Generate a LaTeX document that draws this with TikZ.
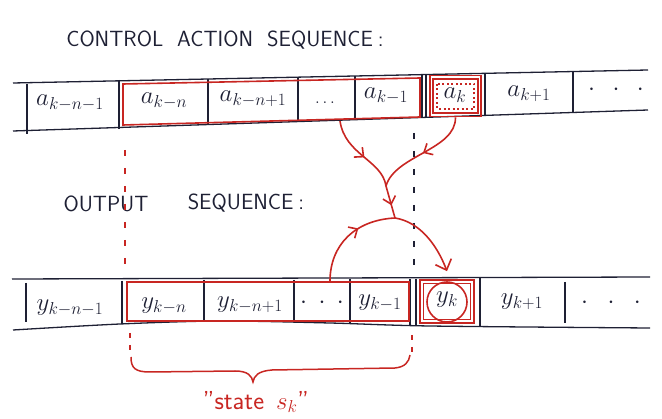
\documentclass[tikz,border=0pt]{standalone}
\usetikzlibrary{arrows.meta,decorations.markings}
\definecolor{ink}{RGB}{30,32,52}
\definecolor{mred}{RGB}{200,38,34}
\begin{document}
\begin{tikzpicture}[x=1pt,y=-1pt,
  band/.style={draw=ink, line width=1.3pt},
  cell/.style={draw=ink, line width=1.2pt},
  lab/.style={text=ink, font=\fontsize{25}{28}\selectfont, inner sep=0pt},
  head/.style={text=ink, font=\sffamily\fontsize{22}{24}\selectfont, inner sep=0pt},
  redbox/.style={draw=mred, line width=1.6pt, inner sep=0pt},
  flow/.style={draw=mred, line width=1.6pt},
  midarrow/.style={postaction={decorate}, decoration={markings,
      mark=at position #1 with {\arrow{Straight Barb[length=7pt,width=13pt]}}}},
  guide/.style={line width=1.3pt, dash pattern=on 6pt off 12pt}]
\useasboundingbox (0,0) rectangle (662,419);

% headings
\node[head] (h1) at (225,40) {CONTROL\hspace{14pt}ACTION\hspace{14pt}SEQUENCE\hspace{5pt}:};
\node[head] (h2a) at (106,204) {OUTPUT};
\node[head] (h2b) at (246,203) {SEQUENCE\hspace{5pt}:};

% ---------- top band ----------
\draw[band] (13,83) -- (648,70);
\draw[band] (13,131) -- (648,110);
\draw[cell] (27,84) -- (27,134);
\draw[cell] (119,80) -- (119,129);
\draw[cell] (208,79) -- (208,125);
\draw[cell] (298,77) -- (298,122);
\draw[cell] (355,76) -- (355,120);
\draw[cell] (422,75) -- (422,118);
\draw[cell] (426,75) -- (426,118);
\draw[cell] (485,73) -- (485,116);
\draw[cell] (573,71) -- (573,113);

\node[lab] (a0) at (70,103) {$a_{k-n-1}$};
\node[lab] (a1) at (164,101) {$a_{k-n}$};
\node[lab] (a2) at (253,99) {$a_{k-n+1}$};
\node[lab, font=\fontsize{16}{18}\selectfont] (a3) at (325,103) {$\ldots$};
\node[lab] (a4) at (386,96) {$a_{k-1}$};
\node[lab] (a5) at (455,95) {$a_{k}$};
\node[lab] (a6) at (529,94) {$a_{k+1}$};
\node[lab] (a7) at (616,90) {$\cdot\hspace{12pt}\cdot\hspace{12pt}\cdot$};

% red window over past actions
\draw[redbox] (123,84) -- (420,78) -- (420,117) -- (123,125) -- cycle;
\coordinate (ared-s) at (340,121);
% current action box
\node[redbox, minimum width=51, minimum height=41] (akbox) at (455.5,96) {};
\draw[redbox] (433,79) rectangle (478,113);
\draw[mred, line width=1.5pt, dash pattern=on 2pt off 2.5pt] (437,84) rectangle (474,109);

% ---------- bottom band ----------
\draw[band] (12,279) -- (650,277);
\draw[band] plot[smooth] coordinates {(13,330) (120,324) (220,321) (330,323) (430,326) (650,328)};
\draw[cell] (26,283) -- (26,322);
\draw[cell] (122,281) -- (122,324);
\draw[cell] (204,280) -- (204,321);
\draw[cell] (294,280) -- (294,322);
\draw[cell] (350,279) -- (350,323);
\draw[cell] (410,279) -- (410,325);
\draw[cell] (416,279) -- (416,325);
\draw[cell] (480,278) -- (480,326);
\draw[cell] (565,282) -- (565,323);

\node[lab] (y0) at (70,308) {$y_{k-n-1}$};
\node[lab] (y1) at (164,306) {$y_{k-n}$};
\node[lab] (y2) at (250,305) {$y_{k-n+1}$};
\node[lab] (y3) at (322,303) {$\cdot\hspace{6pt}\cdot\hspace{6pt}\cdot$};
\node[lab] (y4) at (380,303) {$y_{k-1}$};
\node[lab] (y5) at (447,300) {$y_{k}$};
\node[lab] (y6) at (522,302) {$y_{k+1}$};
\node[lab] (y7) at (611,303) {$\cdot\hspace{14pt}\cdot\hspace{14pt}\cdot$};

\node[redbox, minimum width=282, minimum height=39] (yred) at (268,301.5) {};
\coordinate (yred-n) at (330,0 |- yred.north);
\node[redbox, minimum width=54, minimum height=43] (ykbox) at (447,301.5) {};
\draw[redbox] (423.5,283.5) rectangle (470.5,319.5);
\draw[redbox] (447,302) circle[radius=20];

% guide lines
\draw[guide, mred] (125,150) -- (125,268);
\draw[guide, ink] (414,133) -- (414,272);
\draw[mred, line width=1.3pt, dash pattern=on 5pt off 7pt] (130,333) -- (130,352);
\draw[mred, line width=1.3pt, dash pattern=on 5pt off 7pt] (412,335) -- (412,352);

% brace and state label
\draw[mred, line width=1.5pt] (131,357) .. controls (131,368) and (135,372) .. (150,372)
  -- (235,371) .. controls (248,371) and (252,376) .. (253,382)
  .. controls (254,376) and (258,371) .. (272,370)
  -- (395,368) .. controls (405,367) and (409,362) .. (410,355);
\node[text=mred, font=\sffamily\fontsize{26}{28}\selectfont, inner sep=0pt] (state) at (256,402) {"state\hspace{12pt}$s_k$"};

% flows
\coordinate (M) at (386,186);
\coordinate (J) at (395,218);
\draw[flow, midarrow=0.55] (ared-s) .. controls (345,155) and (382,160) .. (M);
\draw[flow, midarrow=0.5] (akbox.south) .. controls (456,150) and (395,155) .. (M);
\draw[flow, midarrow=0.6] (M) -- (J);
\draw[flow, midarrow=0.62] (yred-n) .. controls (330,245) and (355,220) .. (J);
\draw[flow, -{Straight Barb[length=9pt,width=17pt]}] (J) .. controls (420,222) and (437,245) .. ([yshift=8pt]ykbox.north);
\end{tikzpicture}
\end{document}
